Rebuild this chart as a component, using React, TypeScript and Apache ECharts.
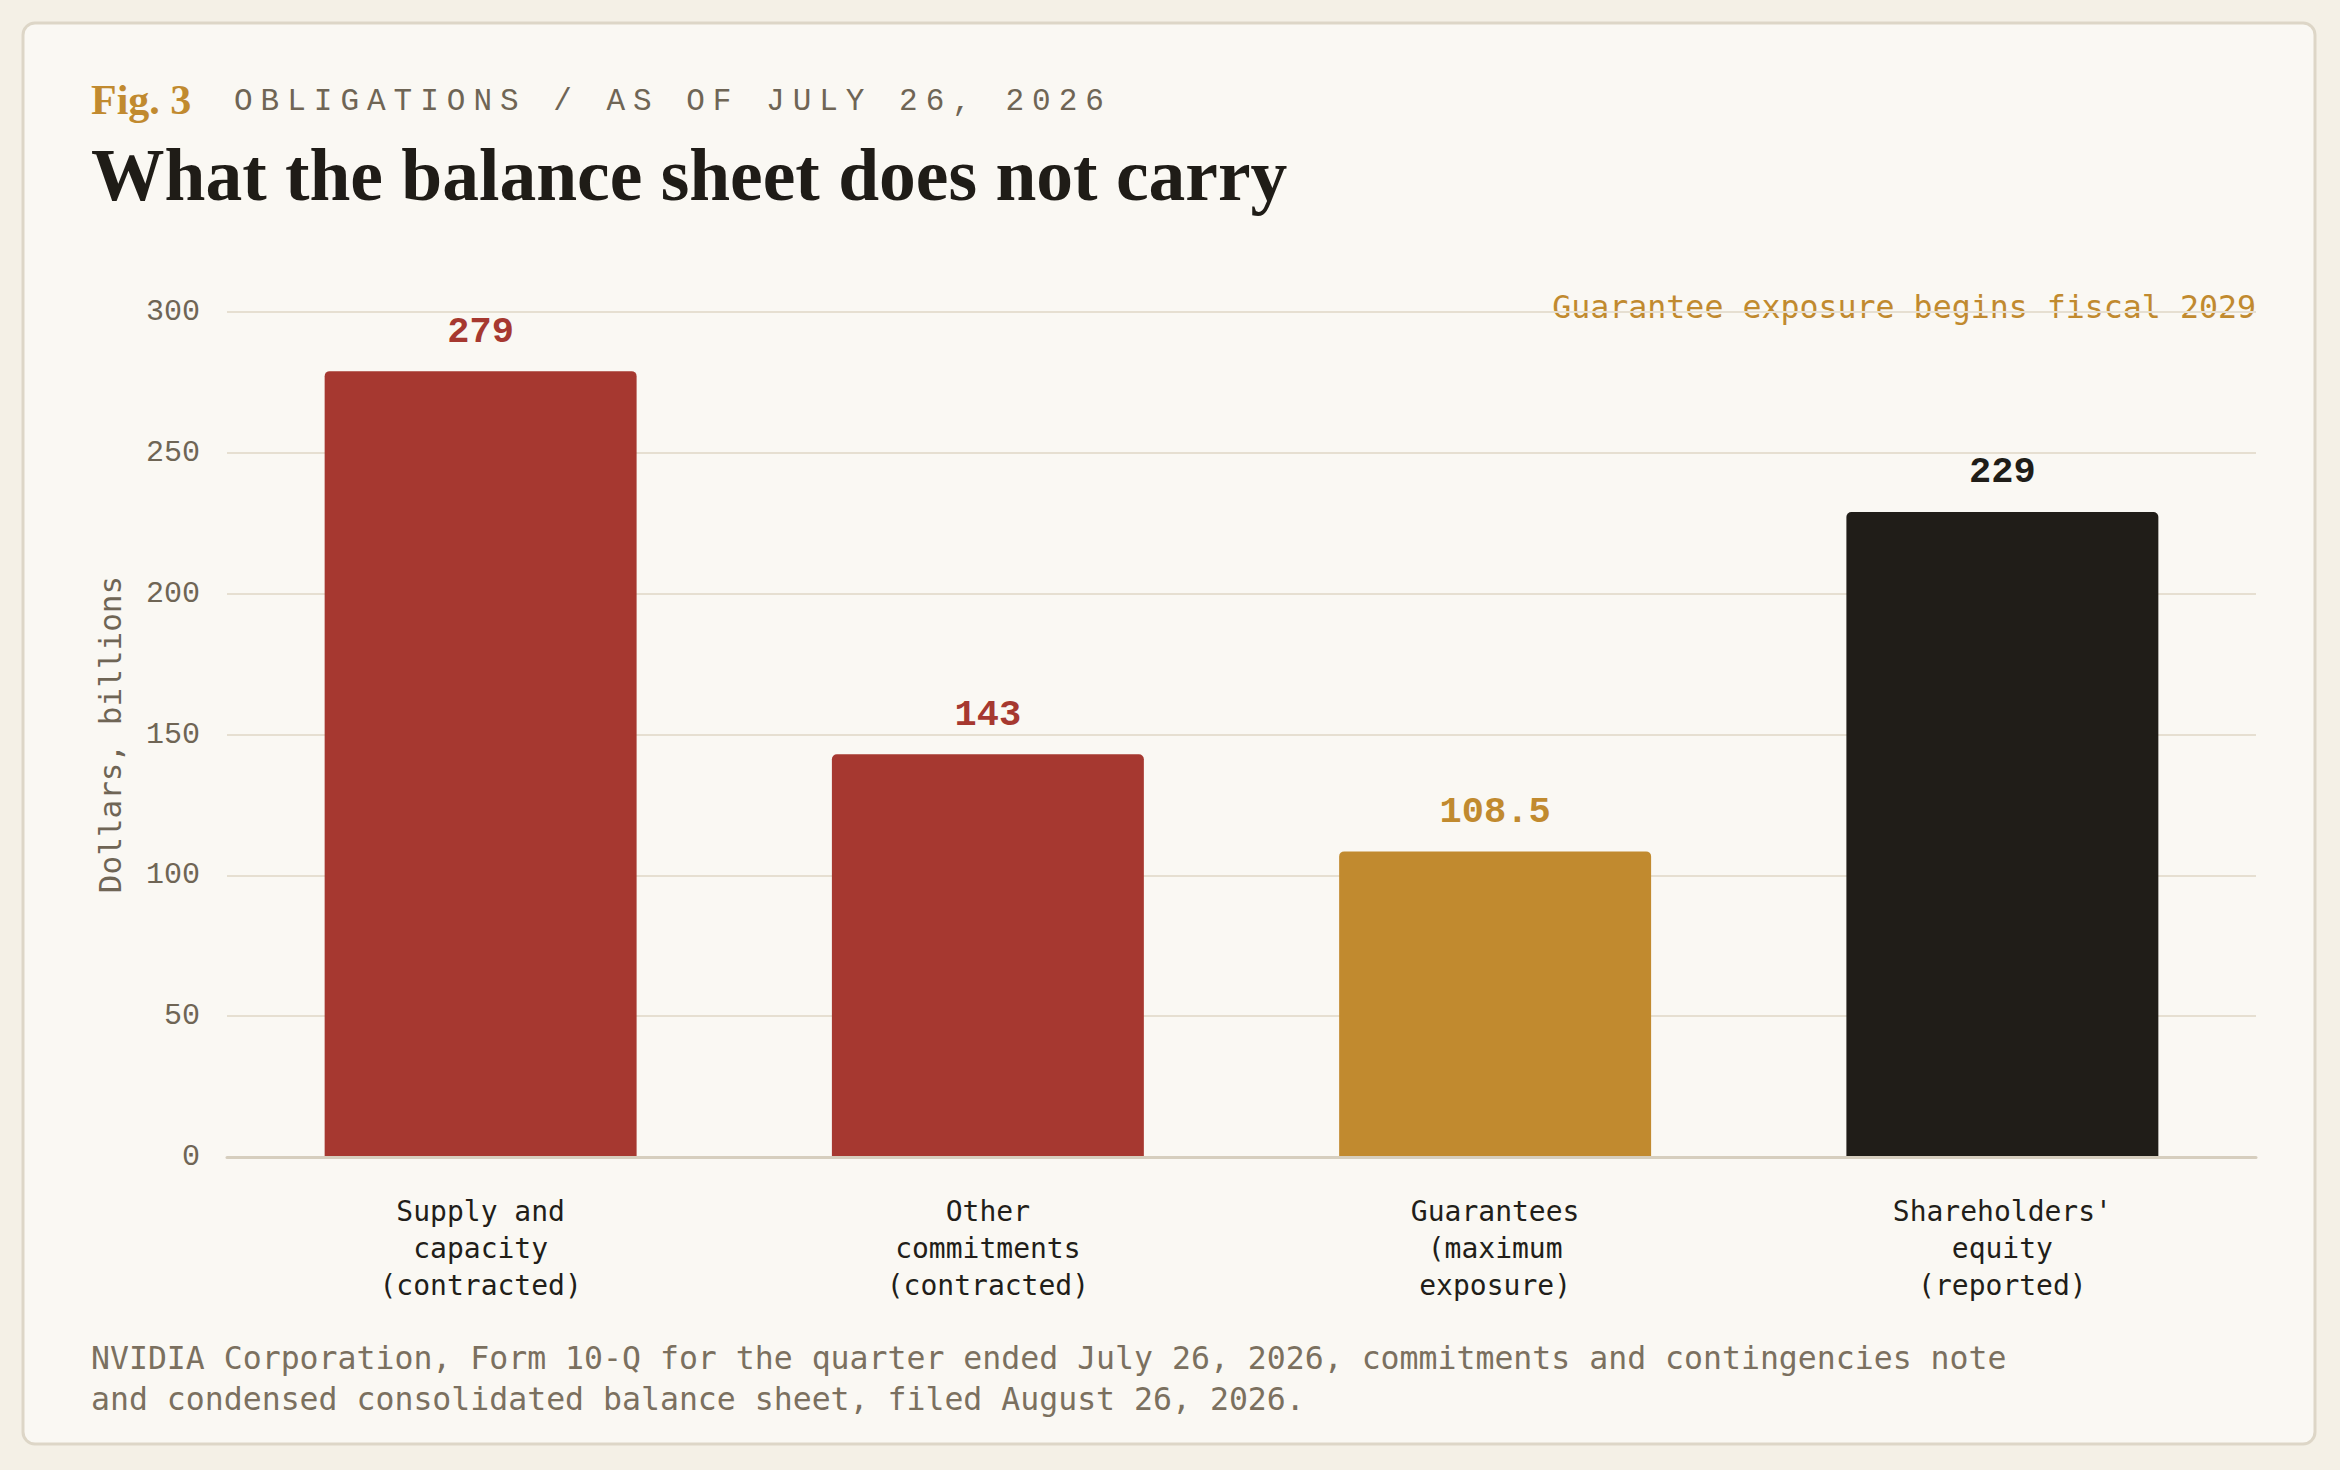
import React, { useEffect, useRef } from "react";
import * as echarts from "echarts";

const categoryLines: string[][] = [
  ["Supply and", "capacity", "(contracted)"],
  ["Other", "commitments", "(contracted)"],
  ["Guarantees", "(maximum", "exposure)"],
  ["Shareholders'", "equity", "(reported)"],
];
const values: number[] = [279, 143, 108.5, 229];
const barColors: string[] = ["#a63830", "#a63830", "#c18a2f", "#201d18"];
const yMin = 0;
const yMax = 300;
const yInterval = 50;

const FIG_LABEL = "Fig. 3";
const SUBTITLE = "OBLIGATIONS / AS OF JULY 26, 2026";
const TITLE = "What the balance sheet does not carry";
const ANNOTATION = "Guarantee exposure begins fiscal 2029";
const Y_NAME = "Dollars, billions";
const FOOTER_LINES: string[] = [
  "NVIDIA Corporation, Form 10-Q for the quarter ended July 26, 2026, commitments and contingencies note",
  "and condensed consolidated balance sheet, filed August 26, 2026.",
];

const MONO = "'Liberation Mono', 'DejaVu Sans Mono', monospace";
const MONO2 = "'DejaVu Sans Mono', 'Liberation Mono', monospace";
const SERIF = "'Liberation Serif', 'DejaVu Serif', serif";

export default function App() {
  const ref = useRef<HTMLDivElement>(null);

  useEffect(() => {
    const el = ref.current;
    if (!el) return;
    const chart = echarts.init(el, undefined, { renderer: "svg" });

    const option: any = {
      animation: false,
      backgroundColor: "#f4f0e6",
      grid: { left: 227, right: 84, top: 312, bottom: 313, containLabel: false },
      xAxis: {
        type: "category",
        data: categoryLines.map((l) => l.join("\n")),
        axisLine: { show: true, lineStyle: { color: "#d6cebe", width: 3 } },
        axisTick: { show: false },
        axisLabel: {
          margin: 36,
          fontFamily: MONO2,
          fontSize: 28,
          lineHeight: 37,
          color: "#221e19",
          align: "center",
        },
        z: 3,
      },
      yAxis: {
        type: "value",
        min: yMin,
        max: yMax,
        interval: yInterval,
        name: Y_NAME,
        nameLocation: "middle",
        nameRotate: 90,
        nameGap: 102,
        nameTextStyle: { fontFamily: MONO2, fontSize: 31, color: "#6f6555" },
        axisLine: { show: false },
        axisTick: { show: false },
        axisLabel: { margin: 27, fontFamily: MONO, fontSize: 30, color: "#6f6555" },
        splitLine: { show: true, lineStyle: { color: "#e6dfd1", width: 2 } },
      },
      series: [
        {
          type: "bar",
          barWidth: "61.5%",
          data: values.map((v, i) => ({
            value: v,
            itemStyle: { color: barColors[i], borderRadius: [5, 5, 0, 0] },
            label: { color: barColors[i] },
          })),
          label: {
            show: true,
            position: "top",
            distance: 21,
            fontFamily: MONO,
            fontWeight: "bold",
            fontSize: 37,
          },
          z: 2,
        },
      ],
      graphic: [
        {
          type: "rect",
          z: -10,
          silent: true,
          shape: { x: 23, y: 23, width: 2292, height: 1421, r: 12 },
          style: { fill: "#faf8f3", stroke: "#ddd6c7", lineWidth: 3 },
        },
        {
          type: "text",
          x: 91,
          y: 100,
          style: {
            text: FIG_LABEL,
            font: `bold 42px ${SERIF}`,
            fill: "#c18a2f",
            verticalAlign: "middle",
            align: "left",
          },
        },
        {
          type: "text",
          x: 234,
          y: 101,
          style: {
            text: SUBTITLE,
            font: `31px ${MONO}`,
            fill: "#6f6555",
            verticalAlign: "middle",
            align: "left",
          },
        },
        {
          type: "text",
          x: 91,
          y: 175,
          style: {
            text: TITLE,
            font: `bold 73.5px ${SERIF}`,
            fill: "#1f1c17",
            verticalAlign: "middle",
            align: "left",
          },
        },
        {
          type: "text",
          x: 2256,
          y: 307,
          style: {
            text: ANNOTATION,
            font: `31.6px ${MONO2}`,
            fill: "#c18a2f",
            verticalAlign: "middle",
            align: "right",
          },
        },
        {
          type: "text",
          x: 91,
          y: 1337,
          style: {
            text: FOOTER_LINES.join("\n"),
            font: `31.5px ${MONO2}`,
            lineHeight: 41,
            fill: "#7b705f",
            verticalAlign: "top",
            align: "left",
          },
        },
      ],
    };

    chart.setOption(option);

    const applySpacing = () => {
      el.querySelectorAll("text").forEach((t) => {
        if (t.textContent === SUBTITLE) t.setAttribute("letter-spacing", "8");
      });
    };
    applySpacing();
    chart.on("finished", applySpacing);
    const timer = setTimeout(applySpacing, 50);

    return () => {
      clearTimeout(timer);
      chart.dispose();
    };
  }, []);

  return (
    <div
      ref={ref}
      style={{ position: "fixed", left: 0, top: 0, width: 2340, height: 1470 }}
    />
  );
}
